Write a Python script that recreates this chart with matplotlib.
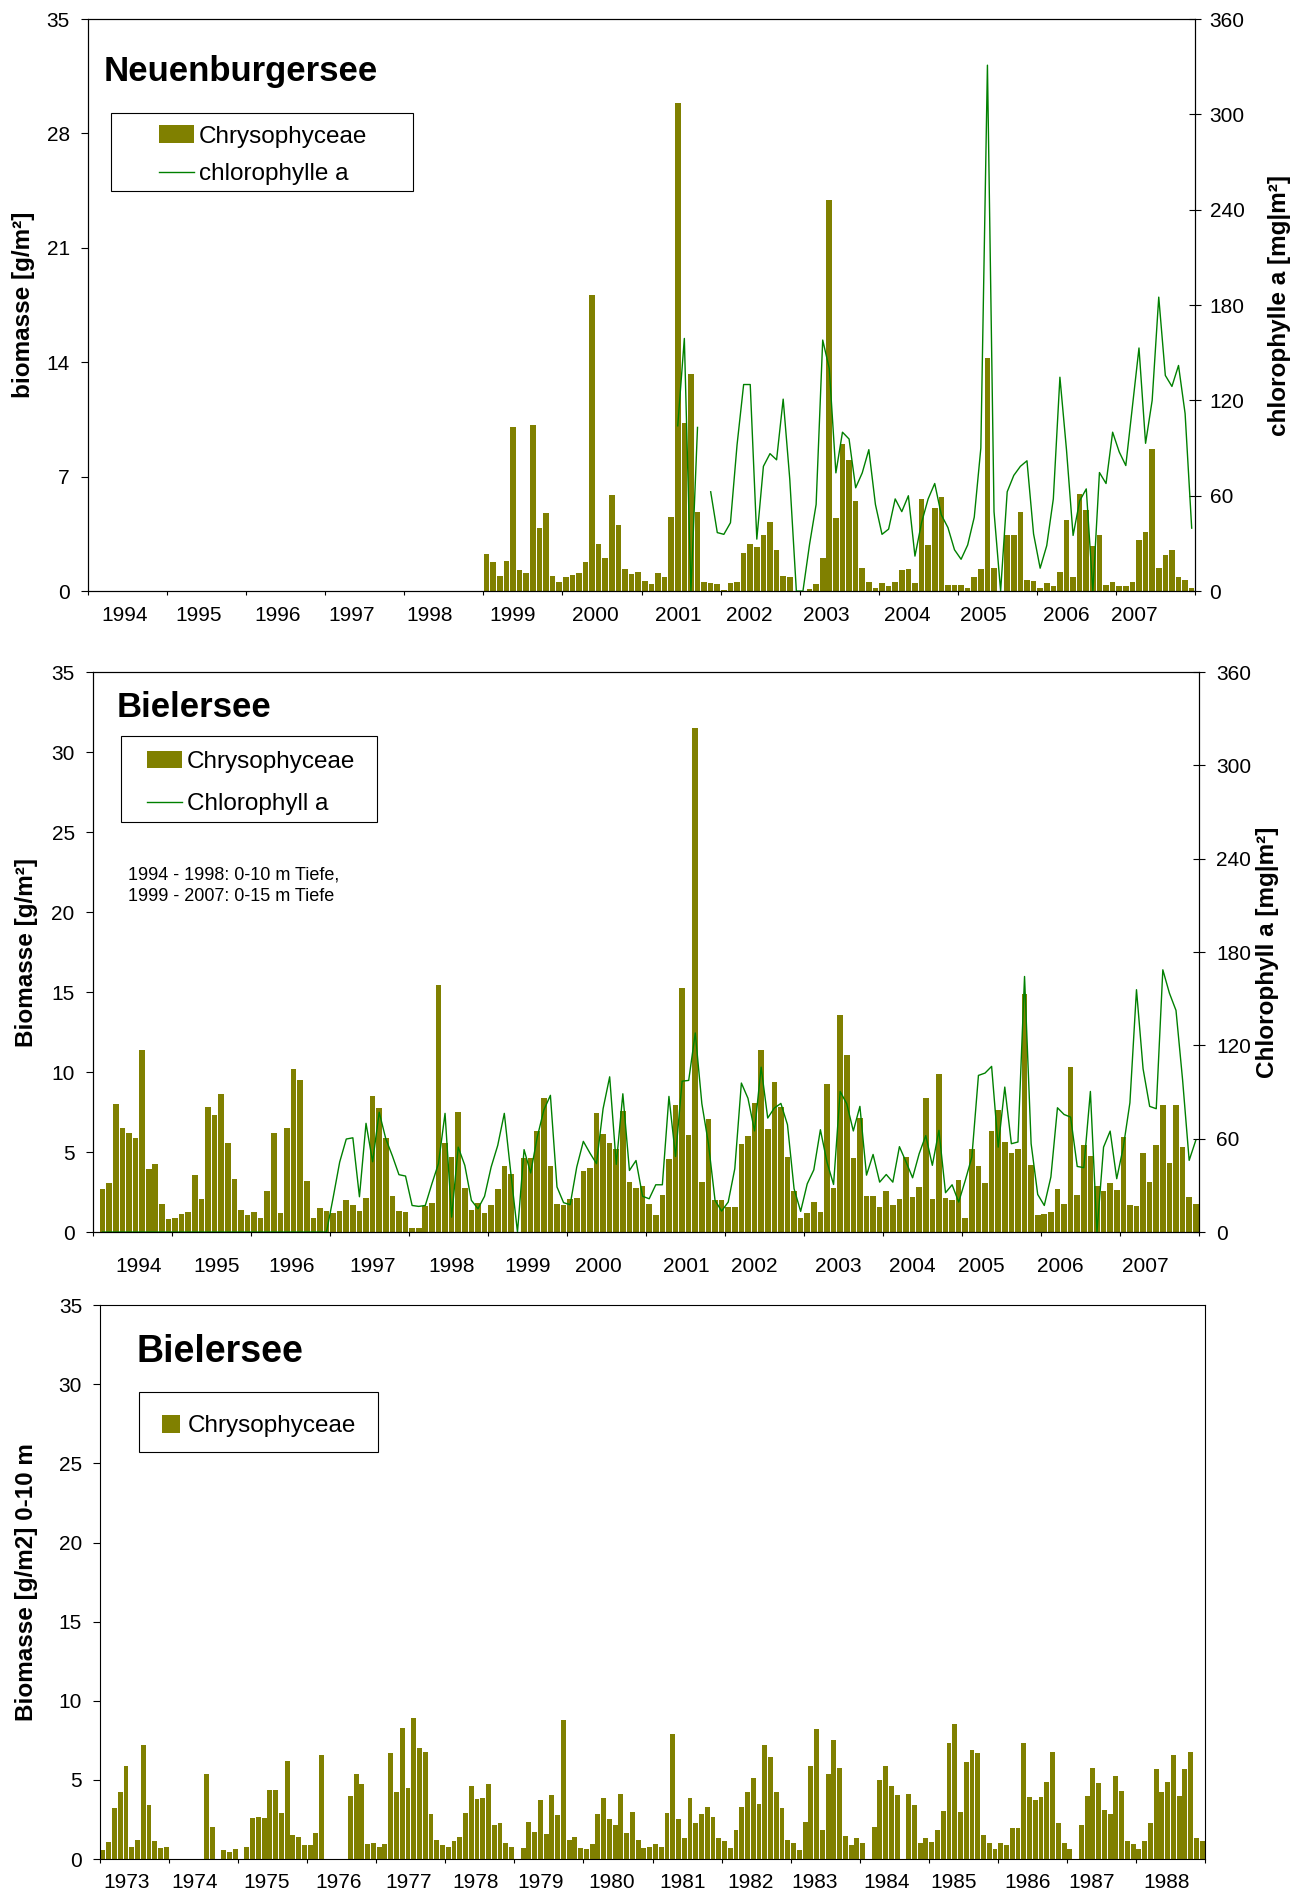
import numpy as np
import matplotlib
matplotlib.use("Agg")
import matplotlib.pyplot as plt
from matplotlib.patches import Rectangle

plt.rcParams['font.family'] = ['Liberation Sans', 'DejaVu Sans']

bar_color = '#808000'
line_color = '#008000'

# ---------------- Neuenburgersee, monthly 1994-2007 ----------------
neu_first_year = 1994
neu_n_years = 14
neu_label_pos = [5.5, 16.8, 28.7, 40.0, 51.9, 64.4, 77.0, 89.6, 100.4, 112.1, 124.4, 135.9, 148.5, 158.8]
neu_bio_start = (1999, 1)
neu_bio = [
    2.25, 1.76, 0.93, 1.82, 10.03, 1.27, 1.09, 10.14, 3.85, 4.76, 0.91, 0.53,   # 1999
    0.85, 0.98, 1.09, 1.76, 18.1, 2.87, 2.0, 5.87, 4.03, 1.33, 1.02, 1.16,      # 2000
    0.6, 0.42, 1.09, 0.85, 4.52, 29.86, 10.3, 13.26, 4.83, 0.53, 0.49, 0.42,    # 2001
    0.04, 0.49, 0.53, 2.34, 2.87, 2.69, 3.43, 4.2, 2.49, 0.91, 0.85, 0.0,       # 2002
    0.0, 0.13, 0.42, 2.0, 23.9, 4.45, 9.0, 8.0, 5.5, 1.4, 0.53, 0.18,           # 2003
    0.49, 0.31, 0.53, 1.27, 1.33, 0.49, 5.63, 2.8, 5.07, 5.74, 0.36, 0.36,      # 2004
    0.36, 0.18, 0.85, 1.33, 14.24, 1.4, 0.0, 3.43, 3.43, 4.83, 0.67, 0.6,       # 2005
    0.18, 0.49, 0.31, 1.16, 4.34, 0.85, 5.96, 4.94, 2.74, 3.43, 0.36, 0.53,     # 2006
    0.31, 0.31, 0.53, 3.11, 3.6, 8.68, 1.4, 2.2, 2.49, 0.85, 0.67, 0.18,        # 2007
]
neu_chl_start = (2001, 6)
neu_chl = [
    104, 159, 0, 103, np.nan, 62.5, 36.8,                                       # 2001
    35.7, 43, 92, 130, 130, 32.7, 78.5, 86.5, 82.6, 120.8, 70.5, 0,             # 2002
    0, 29.3, 54.5, 158, 140, 74.4, 100, 95.7, 65, 74.4, 89, 54.5,               # 2003
    35.7, 39, 58, 50, 60, 22, 43, 58, 67.7, 48, 40, 26,                         # 2004
    20, 29, 46.5, 90, 331, 50, 0, 62.5, 72.8, 78.5, 82, 36,                     # 2005
    14.4, 28.6, 58, 134.6, 88.8, 35, 56.8, 64.3, 0, 74.6, 67.7, 100,            # 2006
    87.6, 79, 116, 153, 93, 120, 185, 135.7, 128.8, 142, 111.7, 39.6,           # 2007
]

# ---------------- Bielersee, monthly 1994-2007 ----------------
bie_first_year = 1994
bie_n_years = 14
bie_label_pos = [6.9, 18.8, 30.2, 42.5, 54.5, 66.1, 76.8, 90.1, 100.5, 113.2, 124.4, 135.0, 146.9, 159.8]
bie_bio_start = (1994, 2)
bie_bio = [
    2.67, 3.04, 7.98, 6.48, 6.17, 5.85, 11.35, 3.92, 4.23, 1.73, 0.79,          # 1994
    0.85, 1.1, 1.23, 3.54, 2.04, 7.79, 7.29, 8.6, 5.54, 3.29, 1.35, 1.04,       # 1995
    1.23, 0.85, 2.54, 6.17, 1.17, 6.48, 10.17, 9.48, 3.17, 0.85, 1.48, 1.29,    # 1996
    1.17, 1.29, 1.98, 1.67, 1.29, 2.1, 8.48, 7.73, 5.85, 2.23, 1.29, 1.23,      # 1997
    0.23, 0.23, 1.6, 1.79, 15.42, 5.54, 4.67, 7.48, 2.73, 1.35, 1.79, 1.17,     # 1998
    1.67, 2.67, 4.1, 3.6, 0.0, 4.6, 4.6, 6.29, 8.35, 4.1, 1.73, 1.67,           # 1999
    2.04, 2.1, 3.79, 3.98, 7.42, 6.1, 5.54, 5.17, 7.54, 3.1, 2.73, 2.85,        # 2000
    1.73, 1.04, 2.29, 4.54, 7.92, 15.23, 6.04, 31.5, 3.1, 7.04, 1.98, 1.98,     # 2001
    1.54, 1.54, 5.48, 5.98, 8.04, 11.35, 6.42, 9.35, 7.79, 4.67, 2.54, 0.85,    # 2002
    1.17, 1.85, 1.23, 9.23, 2.73, 13.54, 11.04, 4.6, 7.1, 2.23, 2.23, 1.54,     # 2003
    2.54, 1.67, 2.04, 4.67, 2.17, 2.79, 8.35, 2.04, 9.85, 2.1, 1.98, 3.23,      # 2004
    0.85, 5.17, 4.1, 3.04, 6.29, 7.6, 5.6, 4.92, 5.17, 14.85, 4.17, 1.04,       # 2005
    1.1, 1.23, 2.67, 1.73, 10.29, 2.29, 5.42, 4.73, 2.85, 2.54, 3.04, 2.6,      # 2006
    5.92, 1.67, 1.6, 4.92, 3.1, 5.42, 7.92, 4.29, 7.92, 5.29, 2.17, 1.73,       # 2007
]
bie_chl_start = (1994, 2)
bie_chl = [
    0, 0, 0, 0, 0, 0, 0, 0, 0, 0, 0,                                            # 1994
    0, 0, 0, 0, 0, 0, 0, 0, 0, 0, 0, 0,                                         # 1995
    0, 0, 0, 0, 0, 0, 0, 0, 0, 0, 0, 0,                                         # 1996
    22, 45, 59.8, 60.6, 22.7, 69.9, 45.2, 77, 60, 49, 36.9, 36,                 # 1997
    17.1, 16.5, 17.1, 31, 44, 76.3, 9.6, 54.6, 42.9, 20.4, 15, 23,              # 1998
    41.8, 55.7, 76.3, 37.5, 0, 53, 38, 61, 78.4, 87.9, 29, 18.9,                # 1999
    17.6, 41.8, 58.3, 50.8, 44, 79.3, 99.8, 43.5, 88.9, 39.6, 46, 23,           # 2000
    21.4, 30.4, 30.4, 87.2, 48.6, 97, 97.5, 128, 82.5, 56.8, 20.4, 13.5,        # 2001
    19.3, 40.7, 95.8, 86, 65, 106, 73.3, 79.7, 82.7, 69, 27.9, 13.3,            # 2002
    31, 40, 65.8, 45, 30.6, 90.4, 82.5, 65, 80.8, 36.6, 49.9, 32.1,             # 2003
    37, 32.1, 54.9, 45.2, 34.9, 50.4, 62, 42.9, 65.4, 25.3, 30.4, 19.3,         # 2004
    33.2, 48.2, 100.7, 102.2, 106.5, 54.6, 93.2, 56.8, 57.9, 164.3, 56.8, 24.2, # 2005
    17.1, 35.4, 79.9, 75.6, 73.9, 42.2, 41.4, 90.4, 0, 54.6, 64.9, 34.3,        # 2006
    54.6, 83.1, 155.8, 105, 80.8, 79.3, 168.6, 153.6, 142.5, 97.9, 46.1, 58.9,  # 2007
]

# ---------------- Bielersee, monthly 1973-1988 ----------------
old_first_year = 1973
old_n_years = 16
old_label_pos = [4.6, 16.5, 28.9, 41.4, 53.6, 65.3, 76.6, 88.9, 101.3, 113.1, 124.2, 136.7, 148.3, 161.1, 172.3, 185.3]
old_bio_start = (1973, 1)
old_bio = [
    0.57, 1.07, 3.22, 4.23, 5.87, 0.76, 1.2, 7.2, 3.41, 1.14, 0.69, 0.76,       # 1973
    0, 0, 0, 0, 0, 0, 5.37, 2.02, 0, 0.57, 0.44, 0.63,                          # 1974
    0, 0.76, 2.59, 2.65, 2.59, 4.36, 4.36, 2.91, 6.19, 1.52, 1.39, 0.88,        # 1975
    0.88, 1.64, 6.57, 0, 0, 0, 0, 3.98, 5.37, 4.74, 0.95, 1.01,                 # 1976
    0.76, 0.95, 6.69, 4.23, 8.27, 4.48, 8.9, 7.01, 6.76, 2.84, 1.2, 0.88,       # 1977
    0.76, 1.14, 1.39, 2.91, 4.61, 3.79, 3.85, 4.74, 2.15, 2.27, 1.01, 0.76,     # 1978
    0, 0.69, 2.34, 1.71, 3.73, 1.58, 4.04, 2.78, 8.78, 1.2, 1.39, 0.69,         # 1979
    0.63, 0.95, 2.84, 3.85, 2.53, 2.15, 4.11, 1.64, 2.97, 1.2, 0.69, 0.76,      # 1980
    0.95, 0.76, 2.91, 7.89, 2.53, 1.33, 3.85, 2.27, 2.84, 3.28, 2.65, 1.33,     # 1981
    1.14, 0.69, 1.83, 3.28, 4.23, 5.12, 3.47, 7.2, 6.44, 4.23, 3.22, 1.2,       # 1982
    1.01, 0.57, 2.34, 5.87, 8.21, 1.83, 5.37, 7.52, 5.75, 1.45, 0.88, 1.33,     # 1983
    1.01, 0, 2.02, 4.99, 5.87, 4.61, 4.04, 0, 4.11, 3.41, 1.01, 1.33,           # 1984
    1.07, 1.83, 3.03, 7.33, 8.53, 2.97, 6.13, 6.88, 6.69, 1.52, 1.01, 0.63,     # 1985
    1.01, 0.88, 1.96, 1.96, 7.33, 3.92, 3.73, 3.92, 4.86, 6.76, 2.27, 1.01,     # 1986
    0.63, 0, 2.15, 3.98, 5.75, 4.8, 3.09, 2.84, 5.24, 4.29, 1.14, 0.95,         # 1987
    0.63, 1.14, 2.27, 5.68, 4.23, 4.86, 6.57, 3.98, 5.68, 6.76, 1.33, 1.14,     # 1988
]


def month_index(first_year, start):
    # category index of a (year, month) on a monthly axis
    return (start[0] - first_year) * 12 + start[1] - 1


def setup_panel(ax, first_year, n_years, label_pos, year_pad, ytick_step):
    n = n_years * 12
    ax.set_xlim(0, n)
    ax.set_ylim(0, 35)
    ax.set_xticks(np.arange(0, n + 1, 12))
    ax.set_xticklabels([])
    ax.set_xticks(label_pos, minor=True)
    ax.set_xticklabels([str(first_year + i) for i in range(n_years)], minor=True)
    ax.tick_params(axis='x', which='major', direction='out', length=3, width=0.8)
    ax.tick_params(axis='x', which='minor', length=0, pad=year_pad, labelsize=15)
    ax.set_yticks(np.arange(0, 36, ytick_step))
    ax.tick_params(axis='y', direction='out', length=5, width=0.8, pad=8, labelsize=15)
    for s in ax.spines.values():
        s.set_linewidth(0.8)


def legend_frame(ax, x0, y0, x1, y1):
    ax.add_patch(Rectangle((x0, y0), x1 - x0, y1 - y0, transform=ax.transAxes,
                           fill=False, edgecolor='black', linewidth=0.8, zorder=5))


fig = plt.figure(figsize=(13.08, 18.92), dpi=100)

# ---------------- panel 1 ----------------
ax1 = fig.add_axes([0.0673, 0.6876, 0.8463, 0.3023])
setup_panel(ax1, neu_first_year, neu_n_years, neu_label_pos, 11, 7)
x_bio = np.arange(len(neu_bio)) + month_index(neu_first_year, neu_bio_start) + 0.5
bars1 = ax1.bar(x_bio, neu_bio, width=0.85, color=bar_color, linewidth=0)
ax1r = ax1.twinx()
x_chl = np.arange(len(neu_chl)) + month_index(neu_first_year, neu_chl_start) + 0.5
line1, = ax1r.plot(x_chl, neu_chl, color=line_color, linewidth=1.0)
ax1r.set_ylim(0, 360)
ax1r.set_yticks(np.arange(0, 361, 60))
ax1r.tick_params(axis='y', direction='inout', length=9, width=0.8, pad=6, labelsize=15)
ax1.set_ylabel('biomasse [g/m²]', fontsize=17.5, fontweight='bold', va='center')
ax1.yaxis.set_label_coords(-0.058, 0.5)
ax1r.set_ylabel('chlorophylle a [mg|m²]', fontsize=17.5, fontweight='bold', va='center')
ax1r.yaxis.set_label_coords(1.076, 0.5)
ax1.text(0.0145, 0.8916, 'Neuenburgersee', transform=ax1.transAxes, fontsize=25,
         fontweight='bold', va='baseline')
legend_frame(ax1, 0.0208, 0.6993, 0.2936, 0.8357)
ax1.legend([bars1, line1], ['Chrysophyceae', 'chlorophylle a'], loc='upper left',
           bbox_to_anchor=(0.064, 0.814), frameon=False, fontsize=17.5, handlelength=1.45,
           handleheight=0.7, handletextpad=0.2, labelspacing=0.65, borderpad=0,
           borderaxespad=0)

# ---------------- panel 2 ----------------
ax2 = fig.add_axes([0.0709, 0.3488, 0.8458, 0.2960])
setup_panel(ax2, bie_first_year, bie_n_years, bie_label_pos, 18, 5)
x_bio = np.arange(len(bie_bio)) + month_index(bie_first_year, bie_bio_start) + 0.5
bars2 = ax2.bar(x_bio, bie_bio, width=0.85, color=bar_color, linewidth=0)
ax2r = ax2.twinx()
x_chl = np.arange(len(bie_chl)) + month_index(bie_first_year, bie_chl_start) + 0.5
line2, = ax2r.plot(x_chl, bie_chl, color=line_color, linewidth=1.0)
ax2r.set_ylim(0, 360)
ax2r.set_yticks(np.arange(0, 361, 60))
ax2r.tick_params(axis='y', direction='inout', length=9, width=0.8, pad=8, labelsize=15)
ax2.set_ylabel('Biomasse [g/m²]', fontsize=17.5, fontweight='bold', va='center')
ax2.yaxis.set_label_coords(-0.06, 0.5)
ax2r.set_ylabel('Chlorophyll a [mg|m²]', fontsize=17.5, fontweight='bold', va='center')
ax2r.yaxis.set_label_coords(1.062, 0.5)
ax2.text(0.022, 0.92, 'Bielersee', transform=ax2.transAxes, fontsize=25,
         fontweight='bold', va='baseline')
legend_frame(ax2, 0.0253, 0.7316, 0.2568, 0.8857)
ax2.legend([bars2, line2], ['Chrysophyceae', 'Chlorophyll a'], loc='upper left',
           bbox_to_anchor=(0.0491, 0.8595), frameon=False, fontsize=17.5, handlelength=1.45,
           handleheight=0.7, handletextpad=0.2, labelspacing=0.85, borderpad=0,
           borderaxespad=0)
ax2.text(0.0319, 0.6536, '1994 - 1998: 0-10 m Tiefe,\n1999 - 2007: 0-15 m Tiefe',
         transform=ax2.transAxes, fontsize=13, va='top', linespacing=1.35)

# ---------------- panel 3 ----------------
ax3 = fig.add_axes([0.0765, 0.0174, 0.8448, 0.2928])
setup_panel(ax3, old_first_year, old_n_years, old_label_pos, 10, 5)
x_bio = np.arange(len(old_bio)) + month_index(old_first_year, old_bio_start) + 0.5
bars3 = ax3.bar(x_bio, old_bio, width=0.85, color=bar_color, linewidth=0)
ax3.set_ylabel('Biomasse [g/m2] 0-10 m', fontsize=17.5, fontweight='bold', va='center')
ax3.yaxis.set_label_coords(-0.0665, 0.5)
ax3.text(0.033, 0.897, 'Bielersee', transform=ax3.transAxes, fontsize=27,
         fontweight='bold', va='baseline')
legend_frame(ax3, 0.0351, 0.7356, 0.2513, 0.843)
ax3.legend([bars3], ['Chrysophyceae'], loc='upper left',
           bbox_to_anchor=(0.056, 0.802), frameon=False, fontsize=17.5, handlelength=0.75,
           handleheight=0.75, handletextpad=0.3, borderpad=0, borderaxespad=0)

fig.savefig('out.png', dpi=100)
